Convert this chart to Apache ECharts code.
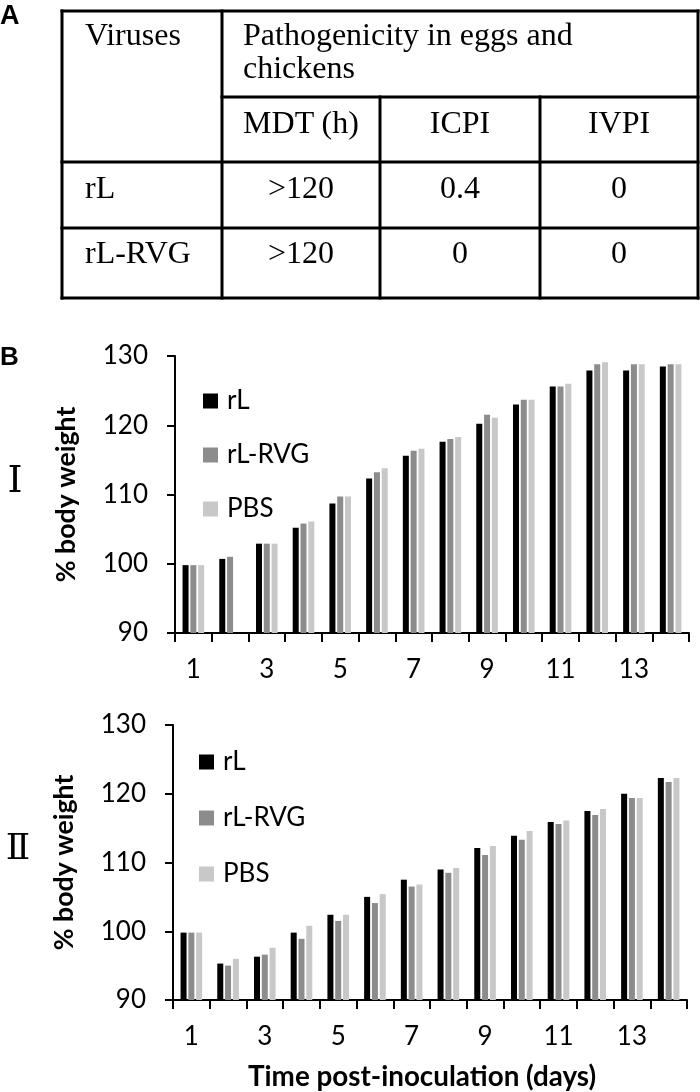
<!DOCTYPE html>
<html>
<head>
<meta charset="utf-8">
<script src="https://cdn.jsdelivr.net/npm/echarts@6/dist/echarts.min.js"></script>
<style>
  html, body { margin: 0; padding: 0; background: #fff; }
  #wrap { position: relative; width: 700px; height: 1092px; }
  #chart { position: absolute; left: 0; top: 0; width: 700px; height: 1092px; }
  #table { position: absolute; left: 0; top: 0; }
</style>
</head>
<body>
<div id="wrap">
  <div id="chart"></div>
  <svg id="table" width="700" height="305"></svg>
</div>
<script>
// ---------- Table (panel A) ----------
const tableHeaderMain = ['Viruses', 'Pathogenicity in eggs and', 'chickens'];
const tableSubHeaders = ['MDT (h)', 'ICPI', 'IVPI'];
const tableViruses = ['rL', 'rL-RVG'];
const tableMDT = ['>120', '>120'];
const tableICPI = ['0.4', '0'];
const tableIVPI = ['0', '0'];

// ---------- Chart data (panel B) ----------
const days = ['1','2','3','4','5','6','7','8','9','10','11','12','13','14'];
const seriesNames = ['rL', 'rL-RVG', 'PBS'];
const yTicks = [90, 100, 110, 120, 130];

// Panel I
const rL_I     = [99.8, 100.7, 102.9, 105.2, 108.7, 112.3, 115.6, 117.6, 120.2, 123.0, 125.6, 127.9, 127.9, 128.5];
const rLRVG_I  = [99.8, 101.0, 102.9, 105.8, 109.7, 113.2, 116.3, 118.0, 121.5, 123.7, 125.6, 128.8, 128.8, 128.8];
const PBS_I    = [99.8, null,  102.9, 106.1, 109.7, 113.8, 116.6, 118.3, 121.1, 123.7, 126.0, 129.1, 128.8, 128.8];

// Panel II
const rL_II    = [99.8, 95.3, 96.3, 99.8, 102.4, 105.0, 107.5, 109.0, 112.1, 113.9, 115.9, 117.5, 120.0, 122.3];
const rLRVG_II = [99.8, 95.0, 96.6, 98.9, 101.5, 104.1, 106.5, 108.5, 111.1, 113.3, 115.6, 116.9, 119.4, 121.7];
const PBS_II   = [99.8, 96.0, 97.6, 100.8, 102.4, 105.4, 106.8, 109.2, 112.4, 114.6, 116.1, 117.8, 119.4, 122.3];

const colors = ['#000000', '#8c8c8c', '#c8c8c8'];

// ---------- Build table SVG ----------
(function buildTable() {
  const svg = document.getElementById('table');
  const NS = 'http://www.w3.org/2000/svg';
  const L = 62, R = 698, T = 11, B = 298;
  const colX = [L, 222, 380, 540, R];
  const rowY = [T, 97, 162, 228, B];
  function line(x1, y1, x2, y2) {
    const l = document.createElementNS(NS, 'line');
    l.setAttribute('x1', x1); l.setAttribute('y1', y1);
    l.setAttribute('x2', x2); l.setAttribute('y2', y2);
    l.setAttribute('stroke', '#000'); l.setAttribute('stroke-width', 3);
    l.setAttribute('stroke-linecap', 'square');
    svg.appendChild(l);
  }
  function text(str, x, y, anchor, opts) {
    const t = document.createElementNS(NS, 'text');
    t.setAttribute('x', x); t.setAttribute('y', y);
    t.setAttribute('text-anchor', anchor || 'start');
    t.setAttribute('font-family', (opts && opts.family) || "'Liberation Serif','Times New Roman',serif");
    t.setAttribute('font-size', (opts && opts.size) || 32);
    if (opts && opts.weight) t.setAttribute('font-weight', opts.weight);
    t.setAttribute('fill', '#000');
    t.textContent = str;
    svg.appendChild(t);
  }
  line(L, T, R, T); line(L, B, R, B); line(L, T, L, B); line(R, T, R, B);
  line(colX[1], T, colX[1], B);
  line(colX[1], rowY[1], R, rowY[1]);
  line(L, rowY[2], R, rowY[2]);
  line(L, rowY[3], R, rowY[3]);
  line(colX[2], rowY[1], colX[2], B);
  line(colX[3], rowY[1], colX[3], B);
  text(tableHeaderMain[0], 85, 45);
  text(tableHeaderMain[1], 243, 45);
  text(tableHeaderMain[2], 243, 78);
  const centers = [301, 460, 619];
  tableSubHeaders.forEach((s, i) => text(s, centers[i], 133, 'middle'));
  const baselines = [198, 263];
  tableViruses.forEach((v, r) => {
    text(v, 85, baselines[r]);
    text(tableMDT[r], centers[0], baselines[r], 'middle');
    text(tableICPI[r], centers[1], baselines[r], 'middle');
    text(tableIVPI[r], centers[2], baselines[r], 'middle');
  });
  text('A', 0, 24, 'start', { family: "'Liberation Sans', Arial, sans-serif", size: 27, weight: 'bold' });
})();

// ---------- font fitting helper (matches a target text width) ----------
const sans = 'Lato';
const measureCtx = document.createElement('canvas').getContext('2d');
function fitSize(str, weight, family, targetWidth) {
  measureCtx.font = weight + ' 100px ' + family;
  const w = measureCtx.measureText(str).width;
  return Math.round(100 * targetWidth / w * 10) / 10;
}
const yTitle = '% body weight';
const xTitle = 'Time post-inoculation (days)';
const yTitleSize = fitSize(yTitle, 'bold', sans, 176);
const xTitleSize = fitSize(xTitle, 'bold', sans, 348);

// ---------- ECharts ----------
const chart = echarts.init(document.getElementById('chart'), null, { renderer: 'canvas' });
const grids = [
  { left: 175, right: 11, top: 356, height: 277 },
  { left: 173, right: 13, top: 725, height: 278 }
];

function makeXAxis(i, withName) {
  const ax = {
    type: 'category', gridIndex: i, data: days,
    axisLine: { show: true, lineStyle: { color: '#000', width: 2 } },
    axisTick: { show: true, interval: 0, length: 9, lineStyle: { color: '#000', width: 2 } },
    axisLabel: { interval: 1, margin: 24, color: '#000', fontSize: 26, fontFamily: sans },
    splitLine: { show: false }
  };
  if (withName) {
    ax.name = xTitle;
    ax.nameLocation = 'middle';
    ax.nameGap = Math.round(1080 - 1003 - xTitleSize / 2);
    ax.nameTextStyle = { color: '#000', fontSize: xTitleSize, fontWeight: 'bold', fontFamily: sans, padding: [0, 16, 0, 0] };
  }
  return ax;
}
function makeYAxis(i) {
  return {
    type: 'value', gridIndex: i, min: yTicks[0], max: yTicks[yTicks.length - 1], interval: 10,
    name: yTitle, nameLocation: 'middle', nameRotate: 90,
    nameGap: Math.round(174 - 66 - yTitleSize / 2),
    nameTextStyle: { color: '#000', fontSize: yTitleSize, fontWeight: 'bold', fontFamily: sans, padding: [0, 0, 0, 0] },
    axisLine: { show: true, lineStyle: { color: '#000', width: 2 } },
    axisTick: { show: true, length: 8, lineStyle: { color: '#000', width: 2 } },
    axisLabel: { margin: 27, color: '#000', fontSize: 26, fontFamily: sans },
    splitLine: { show: false }
  };
}
function bar(name, data, idx, color) {
  return {
    name: name, type: 'bar', xAxisIndex: idx, yAxisIndex: idx, data: data,
    barWidth: 6, barGap: '30%', itemStyle: { color: color }, silent: true
  };
}

const option = {
  animation: false,
  backgroundColor: 'transparent',
  grid: grids,
  xAxis: [makeXAxis(0, false), makeXAxis(1, true)],
  yAxis: [makeYAxis(0), makeYAxis(1)],
  legend: [
    { data: seriesNames, orient: 'vertical', left: 203, top: 388, padding: 0, itemGap: 28,
      itemWidth: 15, itemHeight: 15, icon: 'rect', selectedMode: false,
      textStyle: { color: '#000', fontSize: 26, fontFamily: sans, padding: [0, 0, 0, 4] } },
    { data: seriesNames, orient: 'vertical', left: 199, top: 749, padding: 0, itemGap: 30,
      itemWidth: 15, itemHeight: 15, icon: 'rect', selectedMode: false,
      textStyle: { color: '#000', fontSize: 26, fontFamily: sans, padding: [0, 0, 0, 4] } }
  ],
  graphic: [
    { type: 'text', left: 0, top: 345, style: { text: 'B', font: "bold 26px 'Liberation Sans', Arial, sans-serif", fill: '#000' } },
    { type: 'text', x: 15, y: 482, style: { text: 'Ⅰ', align: 'center', verticalAlign: 'middle', font: "38px 'Liberation Serif', 'DejaVu Serif', serif", fill: '#000' } },
    { type: 'text', x: 18, y: 850, style: { text: 'Ⅱ', align: 'center', verticalAlign: 'middle', font: "36px 'Liberation Serif', 'DejaVu Serif', serif", fill: '#000' } }
  ],
  series: [
    bar(seriesNames[0], rL_I, 0, colors[0]),
    bar(seriesNames[1], rLRVG_I, 0, colors[1]),
    bar(seriesNames[2], PBS_I, 0, colors[2]),
    bar(seriesNames[0], rL_II, 1, colors[0]),
    bar(seriesNames[1], rLRVG_II, 1, colors[1]),
    bar(seriesNames[2], PBS_II, 1, colors[2])
  ]
};
chart.setOption(option);
</script>
</body>
</html>
